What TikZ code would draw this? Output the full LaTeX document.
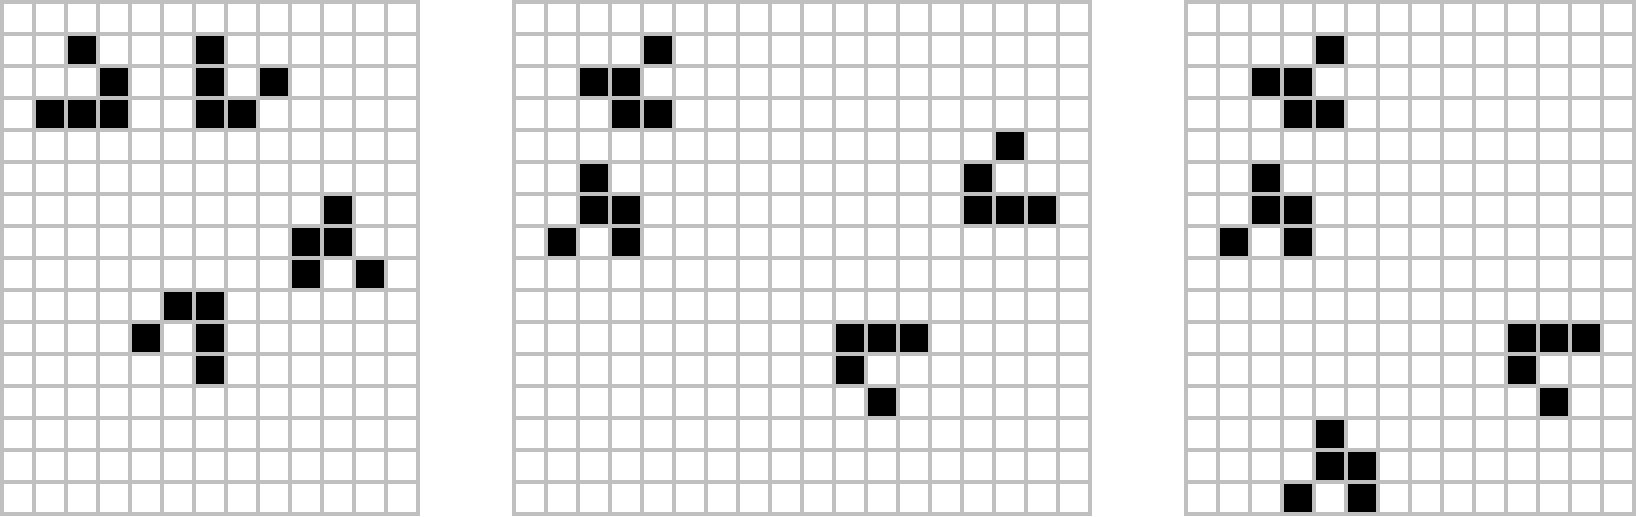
\documentclass[tikz,border=0pt]{standalone}
\usepackage{tikz}
\definecolor{gridgray}{RGB}{192,192,192}
\def\cell(#1,#2){\fill[black] (#1, {15-#2}) rectangle ++(1, 1);}
\def\board(#1)(#2){\draw[gridgray, line width=0.125cm, line cap=rect] (#1, 0) grid (#1+#2, 16);}

\begin{document}
\begin{tikzpicture}
			%%%%% START %%%%%
			
			\useasboundingbox (-0.0625, -0.0625) rectangle (51.0625, 16.0625);
			
			% first board
			\cell(2,1) \cell(3,2) \cell(1,3) \cell(2,3) \cell(3,3)
			\cell(6,1) \cell(6,2) \cell(8,2) \cell(6,3) \cell(7,3)
			\cell(10,6) \cell(9,7) \cell(10,7) \cell(9,8) \cell(11,8)
			\cell(5,9) \cell(6,9) \cell(4,10) \cell(6,10) \cell(6,11)
			\board(0)(13)
			
			% second board
			\begin{scope}[xshift=16cm]
			\cell(4,1) \cell(2,2) \cell(3,2) \cell(3,3) \cell(4,3)
			\cell(2,5) \cell(2,6) \cell(3,6) \cell(1,7) \cell(3,7)
			\cell(15,4) \cell(14,5) \cell(14,6) \cell(15,6) \cell(16,6)
			\cell(10,10) \cell(11,10) \cell(12,10) \cell(10,11) \cell(11,12)
			\board(0)(18)
			\end{scope}
			
			% third board
			\begin{scope}[xshift=37cm]
			\cell(4,1) \cell(2,2) \cell(3,2) \cell(3,3) \cell(4,3)
			\cell(2,5) \cell(2,6) \cell(3,6) \cell(1,7) \cell(3,7)
			\cell(10,10) \cell(11,10) \cell(12,10) \cell(10,11) \cell(11,12)
			\cell(4,13) \cell(4,14) \cell(5,14) \cell(3,15) \cell(5,15)
			\board(0)(14)
			\end{scope}
			
			%%%%% END %%%%%
\end{tikzpicture}
\end{document}
